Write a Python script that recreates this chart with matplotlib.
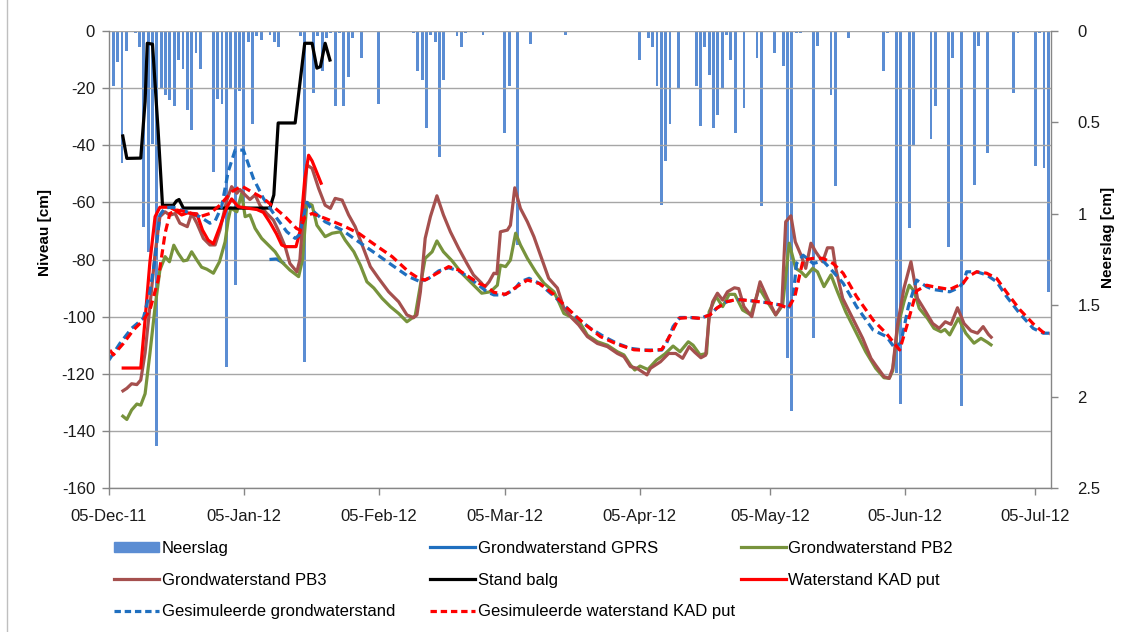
import numpy as np
import pandas as pd
import matplotlib
matplotlib.use("Agg")
import matplotlib.pyplot as plt
import matplotlib.dates as mdates
from matplotlib.lines import Line2D
from matplotlib.patches import Patch

plt.rcParams['font.family'] = ['Liberation Sans', 'DejaVu Sans']
plt.rcParams['axes.unicode_minus'] = False

start = pd.Timestamp("2011-12-05")

# neerslag [cm] per dag (dagnummer t.o.v. 05-12-2011)
rain_day = [0, 1, 2, 3, 4, 6, 7, 8, 9, 10, 11, 12, 13, 14, 15, 16, 17, 18, 19, 20,
            21, 24, 25, 26, 27, 28, 29, 30, 31, 32, 33, 34, 35, 37, 38, 39, 44, 45,
            47, 48, 49, 50, 51, 52, 53, 54, 55, 56, 58, 62, 70, 71, 72, 73, 74, 75,
            76, 77, 80, 81, 82, 86, 91, 92, 94, 97, 105, 122, 124, 125, 126, 127,
            128, 129, 131, 135, 136, 137, 138, 139, 140, 141, 142, 143, 144, 146,
            149, 150, 153, 155, 156, 157, 158, 159, 162, 163, 166, 167, 170, 178,
            179, 181, 182, 184, 185, 189, 190, 193, 194, 196, 199, 200, 202, 208,
            209, 213, 214, 215, 216]
rain_cm = [0.34, 0.30, 0.17, 0.72, 0.11, 0.01, 0.09, 1.07, 1.21, 0.62, 2.27, 0.32,
           0.35, 0.38, 0.41, 0.16, 0.21, 0.43, 0.54, 0.12, 0.21, 0.77, 0.37, 0.40,
           1.84, 0.32, 1.39, 0.33, 0.95, 0.06, 0.51, 0.03, 0.05, 0.02, 0.06, 0.09,
           0.03, 1.81, 0.34, 0.03, 0.22, 0.04, 0.01, 0.41, 0.01, 0.41, 0.25, 0.04,
           0.15, 0.40, 0.01, 0.22, 0.27, 0.53, 0.02, 0.06, 0.69, 0.27, 0.03, 0.09,
           0.01, 0.02, 0.56, 0.30, 1.17, 0.07, 0.02, 0.16, 0.04, 0.09, 0.30, 0.95,
           0.71, 0.51, 0.31, 0.30, 0.52, 0.09, 0.24, 0.53, 0.46, 0.31, 0.02, 0.16,
           0.56, 0.42, 0.15, 0.96, 0.12, 0.19, 1.79, 2.08, 0.01, 0.01, 1.68, 0.08,
           0.35, 0.85, 0.04, 0.22, 0.01, 1.87, 2.04, 1.08, 0.63, 0.59, 0.41, 1.18,
           0.15, 2.05, 0.84, 0.08, 0.67, 0.34, 0.01, 0.74, 0.01, 0.75, 1.43]

# grondwaterstand GPRS [cm]
gprs_day = [36.9, 38.5, 40.4]
gprs_cm = [-80.0, -79.8, -81.5]

# grondwaterstand PB2 [cm]
pb2_day = [2.9, 4.1, 5.2, 6.4, 7.3, 8.3, 9.4, 10.6, 11.7, 12.9, 13.9, 14.9, 15.9,
           17.1, 18.0, 19.0, 20.2, 21.3, 22.5, 24.0, 25.4, 26.7, 27.4, 28.0, 29.4,
           30.5, 31.3, 32.4, 33.6, 35.1, 36.6, 38.2, 39.7, 41.6, 43.6, 44.5, 45.5,
           46.7, 47.8, 49.7, 51.3, 53.2, 54.3, 56.3, 57.8, 59.3, 60.9, 62.8, 64.7,
           66.6, 68.5, 70.4, 71.6, 72.7, 74.3, 75.4, 76.9, 78.9, 81.1, 83.4, 85.7,
           87.7, 89.3, 90.0, 91.2, 92.3, 93.5, 94.6, 96.2, 98.1, 100.0, 102.3,
           103.4, 104.6, 106.9, 108.4, 110.0, 112.3, 114.6, 116.9, 118.4, 119.9,
           120.9, 122.1, 123.9, 125.9, 127.8, 129.7, 131.3, 133.2, 134.3, 135.9,
           137.4, 138.0, 139.6, 141.1, 142.6, 143.9, 145.7, 147.6, 149.5, 151.4,
           153.3, 154.9, 156.4, 157.9, 159.1, 160.2, 161.8, 162.9, 164.4, 166.0,
           167.5, 169.4, 171.7, 174.0, 176.3, 178.2, 179.4, 180.2, 181.3, 182.8,
           184.0, 185.1, 186.3, 188.2, 189.7, 191.3, 192.2, 193.3, 195.3, 197.0,
           198.9, 200.5, 202.0, 203.1]
pb2_cm = [-134.5, -136.0, -132.7, -130.6, -131.0, -127.0, -113.0, -96.5, -83.7,
          -79.0, -80.8, -75.0, -77.8, -80.5, -80.2, -77.3, -80.2, -82.7, -83.4,
          -84.8, -80.8, -73.8, -66.2, -62.0, -63.3, -56.8, -65.0, -64.4, -69.1,
          -72.6, -74.9, -77.3, -80.8, -83.7, -86.0, -80.0, -60.0, -61.0, -68.0,
          -72.0, -70.8, -70.3, -73.2, -77.3, -82.0, -87.8, -90.0, -93.6, -96.5,
          -98.9, -101.8, -99.7, -89.0, -79.6, -77.3, -73.5, -77.3, -80.5, -84.8,
          -88.3, -91.8, -91.3, -89.0, -82.0, -82.5, -80.2, -70.8, -74.9, -79.6,
          -84.3, -88.3, -91.3, -94.8, -98.9, -100.6, -102.4, -106.5, -108.8,
          -110.0, -112.3, -113.4, -116.9, -118.7, -117.3, -118.5, -115.2, -113.1,
          -110.3, -112.3, -108.8, -110.0, -113.4, -112.9, -98.3, -93.0, -96.5,
          -92.2, -92.2, -97.7, -99.4, -90.0, -94.8, -99.4, -96.0, -74.3, -83.1,
          -84.3, -86.0, -83.1, -84.3, -89.5, -85.4, -91.3, -98.3, -105.3, -112.3,
          -118.1, -121.4, -121.6, -119.0, -104.0, -94.8, -89.0, -91.0, -97.1,
          -100.6, -104.1, -105.3, -104.5, -106.4, -100.6, -105.8, -109.3, -107.6,
          -109.0, -110.2]

# grondwaterstand PB3 [cm]
pb3_day = [2.9, 4.1, 5.2, 6.4, 7.3, 8.3, 9.4, 10.6, 11.7, 12.9, 14.0, 15.2, 16.3,
           18.0, 19.0, 20.2, 21.7, 23.2, 24.4, 25.5, 27.1, 28.2, 29.4, 30.1, 31.3,
           32.4, 33.6, 34.7, 36.3, 37.8, 38.9, 40.5, 41.6, 43.2, 43.9, 45.5, 46.7,
           48.2, 49.7, 50.9, 52.0, 53.6, 55.1, 56.6, 58.2, 60.1, 62.0, 64.3, 66.6,
           68.5, 70.0, 70.8, 71.6, 72.7, 73.9, 75.4, 76.9, 78.5, 80.4, 82.3, 83.8,
           85.7, 86.2, 87.4, 88.5, 89.2, 90.0, 91.6, 92.3, 93.3, 94.6, 96.2, 97.7,
           99.2, 101.1, 103.1, 104.6, 106.5, 108.0, 110.0, 112.3, 114.6, 116.9,
           118.4, 119.9, 121.4, 122.6, 123.7, 124.5, 126.8, 128.7, 130.3, 131.9,
           133.4, 134.7, 136.1, 137.2, 138.0, 138.8, 139.9, 141.1, 142.2, 143.8,
           144.8, 146.0, 147.8, 149.7, 151.4, 153.3, 154.7, 155.6, 156.8, 157.8,
           159.1, 160.2, 161.4, 162.5, 164.1, 165.2, 166.4, 167.1, 168.7, 171.0,
           173.3, 175.2, 176.3, 178.2, 179.4, 180.2, 181.3, 182.8, 184.4, 185.9,
           187.8, 189.4, 190.9, 192.3, 193.6, 195.1, 196.6, 198.2, 199.7, 201.0,
           202.2, 203.1]
pb3_cm = [-126.3, -125.1, -123.5, -123.8, -122.2, -112.7, -96.5, -77.8, -65.0,
          -63.3, -64.5, -63.9, -67.3, -68.5, -63.9, -67.3, -72.6, -74.9, -74.9,
          -69.7, -59.2, -54.5, -56.8, -55.5, -57.4, -59.0, -57.4, -61.0, -63.9,
          -66.2, -69.7, -75.5, -81.4, -84.3, -80.0, -46.9, -48.1, -55.1, -61.0,
          -62.1, -58.6, -59.2, -64.4, -68.5, -74.9, -82.5, -86.6, -91.3, -94.8,
          -99.4, -100.4, -99.4, -91.3, -72.6, -65.0, -57.7, -64.4, -70.3, -76.1,
          -81.4, -85.4, -88.3, -90.0, -87.8, -84.8, -85.0, -70.3, -69.7, -68.0,
          -54.9, -62.1, -66.8, -72.0, -78.4, -86.6, -90.0, -97.1, -100.6, -102.9,
          -107.0, -109.4, -110.5, -112.9, -114.0, -117.5, -118.1, -119.3, -120.4,
          -118.1, -115.8, -112.9, -112.9, -114.6, -110.5, -112.5, -114.4, -113.5,
          -100.6, -94.8, -91.8, -94.2, -91.3, -89.9, -90.2, -96.5, -100.0, -87.8,
          -93.6, -99.4, -95.9, -66.8, -64.7, -73.8, -78.4, -83.1, -74.3, -77.3,
          -80.8, -75.9, -75.9, -83.1, -93.6, -100.6, -107.6, -114.6, -117.0,
          -121.0, -121.6, -118.1, -103.0, -90.0, -80.8, -93.6, -98.3, -102.4,
          -104.1, -101.8, -102.7, -96.9, -102.4, -105.0, -105.8, -103.5, -106.2,
          -107.6]

# stand balg [cm]
balg_day = [3.1, 4.1, 7.3, 8.3, 8.8, 10.0, 11.3, 12.3, 14.8, 15.5, 16.1, 17.1,
            37.0, 37.9, 38.9, 42.8, 45.0, 46.7, 47.8, 48.6, 49.7, 50.9]
balg_cm = [-36.2, -44.6, -44.5, -24.7, -4.3, -4.6, -35.0, -61.0, -61.0, -59.5,
           -59.0, -62.0, -62.0, -57.4, -32.2, -32.2, -4.3, -4.3, -13.0, -12.5,
           -4.3, -10.7]

# waterstand KAD put [cm]
kad_day = [2.9, 7.3, 8.3, 9.4, 10.6, 11.7, 14.0, 15.2, 16.7, 18.0, 20.2, 21.5,
           22.8, 24.0, 25.5, 27.0, 28.2, 29.7, 31.7, 34.0, 35.5, 37.0, 38.5, 39.7,
           40.6, 43.0, 44.0, 45.0, 45.9, 46.7, 47.5, 48.9]
kad_cm = [-118.0, -118.0, -101.0, -81.0, -65.0, -61.7, -61.7, -62.7, -64.4, -63.7,
          -64.0, -69.7, -73.2, -74.5, -68.5, -62.0, -58.8, -61.5, -62.0, -62.5,
          -63.5, -67.0, -71.0, -74.9, -75.5, -75.5, -69.7, -52.0, -43.5, -45.5,
          -48.5, -53.8]

# gesimuleerde grondwaterstand [cm]
simgw_day = [0.0, 2.5, 5.2, 7.9, 9.4, 10.6, 11.7, 12.9, 14.7, 17.9, 20.9, 23.2,
             24.4, 25.9, 27.4, 29.0, 30.9, 33.2, 35.5, 38.6, 40.9, 42.8, 43.7, 44.6,
             45.5, 46.7, 49.7, 53.6, 57.4, 61.2, 65.1, 68.9, 71.6, 73.5, 75.8, 78.1,
             80.4, 82.7, 85.0, 86.9, 88.5, 90.8, 93.1, 94.6, 96.6, 98.9, 101.5,
             104.6, 107.7, 110.7, 113.8, 116.9, 119.9, 123.0, 127.1, 128.2, 129.7,
             131.3, 133.6, 135.9, 138.2, 139.7, 142.0, 144.3, 147.4, 151.2, 154.3,
             156.2, 157.3, 158.1, 159.6, 161.9, 164.2, 166.5, 168.8, 171.9, 175.7,
             178.8, 180.7, 182.1, 183.8, 185.7, 188.0, 189.5, 193.3, 195.2, 196.4,
             197.2, 199.5, 201.8, 204.1, 206.4, 209.4, 212.5, 214.8, 216.3]
simgw_cm = [-115.2, -109.4, -104.1, -100.6, -91.3, -79.6, -64.4, -61.9, -61.7,
            -63.3, -65.0, -67.3, -66.5, -61.5, -49.3, -41.7, -41.7, -51.6, -58.6,
            -65.6, -70.3, -72.6, -71.5, -66.0, -60.0, -62.7, -66.8, -69.7, -73.8,
            -77.8, -82.0, -86.0, -87.8, -86.6, -84.0, -82.9, -84.0, -86.2, -89.0,
            -91.3, -92.4, -92.4, -90.7, -87.8, -86.6, -88.3, -91.8, -95.9, -100.6,
            -104.1, -107.0, -109.4, -111.1, -111.7, -111.7, -109.4, -103.5, -100.3,
            -100.3, -100.6, -99.4, -97.1, -94.8, -94.0, -94.4, -95.1, -95.9, -97.1,
            -93.0, -81.4, -78.5, -81.4, -80.5, -84.3, -88.3, -96.5, -104.7, -107.0,
            -111.1, -109.0, -96.5, -87.2, -89.5, -90.5, -91.3, -90.0, -88.3, -84.3,
            -84.3, -85.4, -87.8, -93.0, -98.9, -104.1, -105.8, -105.8]

# gesimuleerde waterstand KAD put [cm]
simkad_day = [0.2, 1.0, 3.3, 5.6, 7.9, 9.4, 11.3, 12.9, 14.0, 15.6, 17.9, 20.9,
              23.2, 25.5, 28.2, 30.5, 32.8, 35.5, 37.8, 40.5, 43.1, 43.9, 45.1, 46.7,
              49.7, 53.6, 57.4, 61.2, 65.1, 68.9, 71.2, 72.7, 75.0, 78.1, 80.4, 82.7,
              85.0, 86.9, 88.5, 91.2, 93.8, 96.2, 99.1, 102.1, 105.4, 109.2, 113.0,
              116.9, 120.7, 124.5, 127.1, 129.1, 131.0, 133.6, 135.9, 138.2, 139.7,
              142.0, 144.3, 147.4, 151.2, 154.3, 156.2, 157.7, 158.9, 159.6, 161.9,
              164.2, 166.5, 168.8, 171.9, 175.7, 178.8, 181.8, 183.4, 185.7, 188.0,
              189.5, 193.3, 196.4, 197.5, 199.5, 201.8, 204.1, 206.4, 209.4, 212.5,
              214.8, 216.3]
simkad_cm = [-111.7, -113.4, -109.4, -104.7, -101.2, -97.7, -87.2, -70.8, -63.9,
             -62.7, -63.3, -65.0, -63.9, -61.0, -56.3, -54.3, -56.3, -58.6, -61.5,
             -65.0, -69.1, -69.7, -65.0, -63.9, -65.6, -68.0, -70.8, -74.9, -79.0,
             -84.3, -86.6, -87.2, -85.2, -82.5, -83.7, -86.0, -88.3, -89.5, -91.5,
             -92.2, -89.5, -87.2, -88.5, -92.0, -97.1, -102.4, -107.0, -109.7,
             -111.6, -111.9, -111.5, -106.4, -100.6, -100.3, -100.6, -99.4, -97.1,
             -94.8, -94.0, -94.4, -95.1, -95.9, -97.1, -93.0, -84.8, -80.2, -79.6,
             -79.6, -81.4, -84.8, -93.0, -101.2, -106.0, -111.7, -103.5, -91.0,
             -89.0, -89.5, -90.5, -88.3, -86.0, -84.3, -84.8, -86.6, -91.5, -97.5,
             -102.5, -105.5, -106.0]


def to_dates(days):
    return start + pd.to_timedelta(np.asarray(days, dtype=float), unit="D")


grid_col = "#A6A6A6"
axis_col = "#868686"
bar_col = "#5B8DD3"
dash = (2.6, 1.5)
lw = 2.3

fig = plt.figure(figsize=(11.3, 6.32), dpi=100)
ax = fig.add_axes([109 / 1130, 1 - 488 / 632, 942 / 1130, 457 / 632])
ax2 = ax.twinx()
ax.set_zorder(ax2.get_zorder() + 1)
ax.patch.set_visible(False)

ax2.bar(to_dates(rain_day), rain_cm, width=0.65, color=bar_col, align="center")
ax2.set_ylim(2.5, 0)
ax2.set_yticks([0, 0.5, 1, 1.5, 2, 2.5])
ax2.set_yticklabels(["0", "0.5", "1", "1.5", "2", "2.5"])

kw = dict(lw=lw, solid_joinstyle="round", solid_capstyle="butt")
ax.plot(to_dates(gprs_day), gprs_cm, color="#1F6FBF", **kw)
ax.plot(to_dates(pb2_day), pb2_cm, color="#77933C", **kw)
ax.plot(to_dates(pb3_day), pb3_cm, color="#A5504E", **kw)
ax.plot(to_dates(balg_day), balg_cm, color="black", **kw)
ax.plot(to_dates(kad_day), kad_cm, color="#FF0000", **kw)
ax.plot(to_dates(simgw_day), simgw_cm, color="#1F6FBF", lw=lw, dashes=dash)
ax.plot(to_dates(simkad_day), simkad_cm, color="#FF0000", lw=lw, dashes=dash)

ax.set_ylim(-160, 0)
ax.set_yticks(np.arange(-160, 1, 20))
ax.set_xlim(start, start + pd.Timedelta(days=216.6))
ax.xaxis.set_major_locator(mdates.MonthLocator(bymonthday=5))
ax.xaxis.set_major_formatter(mdates.DateFormatter("%d-%b-%y"))
ax.grid(axis="y", color=grid_col, lw=1)

for s in ["top", "right"]:
    ax.spines[s].set_visible(False)
for s in ["top", "left", "bottom"]:
    ax2.spines[s].set_visible(False)
for a in (ax, ax2):
    for s in a.spines.values():
        s.set_color(axis_col)
        s.set_linewidth(1)
ax.tick_params(axis="both", colors=axis_col, labelcolor="#1A1A1A", labelsize=12,
               length=5, width=1)
ax.tick_params(axis="y", pad=5)
ax.tick_params(axis="x", pad=10)
ax2.tick_params(axis="y", colors=axis_col, labelcolor="#1A1A1A", labelsize=12,
                length=5, width=1, pad=14)

fig.text(45 / 1130, 1 - 233 / 632, "Niveau [cm]", rotation=90, ha="center",
         va="center", fontsize=11, fontweight="bold")
fig.text(1108 / 1130, 1 - 237 / 632, "Neerslag [cm]", rotation=90, ha="center",
         va="center", fontsize=11, fontweight="bold")

# legenda in drie kolommen
h_rain = Patch(facecolor=bar_col, edgecolor=bar_col)
h_gprs = Line2D([], [], color="#1F6FBF", lw=lw)
h_pb2 = Line2D([], [], color="#77933C", lw=lw)
h_pb3 = Line2D([], [], color="#A5504E", lw=lw)
h_balg = Line2D([], [], color="black", lw=lw)
h_kad = Line2D([], [], color="#FF0000", lw=lw)
h_simgw = Line2D([], [], color="#1F6FBF", lw=lw, dashes=(2.0, 1.2))
h_simkad = Line2D([], [], color="#FF0000", lw=lw, dashes=(2.0, 1.2))

columns = [
    ([h_rain, h_pb3, h_simgw],
     ["Neerslag", "Grondwaterstand PB3", "Gesimuleerde grondwaterstand"], 114),
    ([h_gprs, h_balg, h_simkad],
     ["Grondwaterstand GPRS", "Stand balg", "Gesimuleerde waterstand KAD put"], 430),
    ([h_pb2, h_kad], ["Grondwaterstand PB2", "Waterstand KAD put"], 741),
]
for handles, labels, xpix in columns:
    fig.legend(handles, labels, loc="upper left",
               bbox_to_anchor=(xpix / 1130, 1 - 541 / 632), frameon=False,
               fontsize=12, handlelength=2.7, handleheight=0.6,
               handletextpad=0.15, labelspacing=1.0, borderpad=0,
               borderaxespad=0)

fig.add_artist(Line2D([7 / 1130, 7 / 1130], [0, 1], color="#BFBFBF", lw=1,
                      transform=fig.transFigure))

fig.savefig("out.png", dpi=100)
